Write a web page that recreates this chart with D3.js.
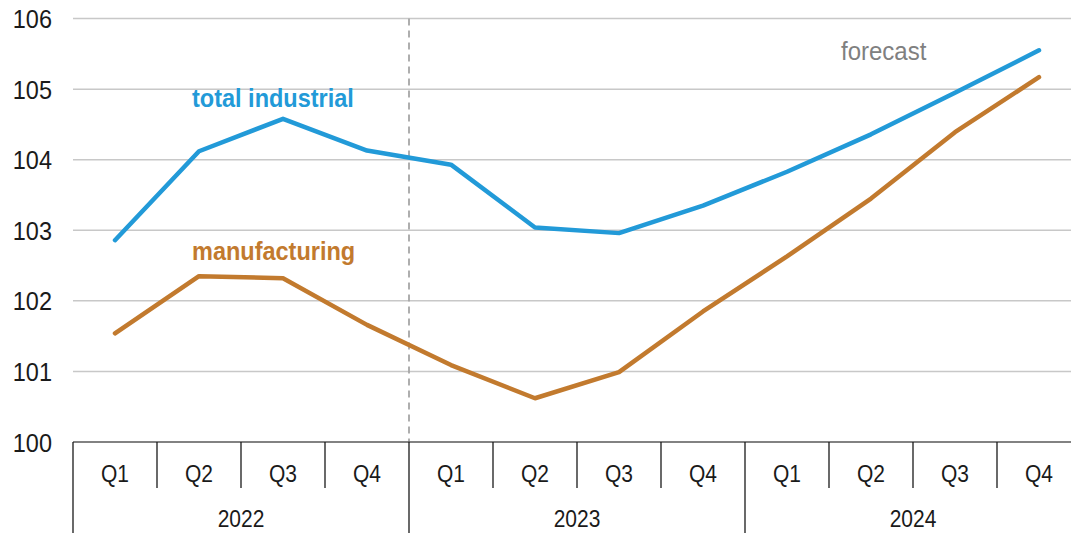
<!DOCTYPE html>
<html><head><meta charset="utf-8">
<script src="https://cdn.jsdelivr.net/npm/d3@7"></script>
<style>body{margin:0;background:#fff;} svg{display:block;font-family:"Liberation Sans",Arial,sans-serif;}</style>
</head><body>
<svg id="c" width="1071" height="533"></svg>
<script>
const years = ["2022","2023","2024"];
const quarters = ["Q1","Q2","Q3","Q4"];
const categories = years.flatMap(y => quarters.map(q => y + " " + q));
const totalIndustrial = [102.86,104.12,104.58,104.13,103.93,103.04,102.96,103.35,103.83,104.36,104.95,105.55];
const manufacturing = [101.54,102.35,102.32,101.66,101.09,100.62,100.99,101.85,102.63,103.45,104.39,105.17];
const yTicks = [100,101,102,103,104,105,106];
const forecastStart = "2023 Q1";

(function(){
const svg = d3.select("#c");
const pL = 73, pR = 1081, pT = 18.6, pB = 442;
const x = d3.scaleBand().domain(categories).range([pL, pR]);
const y = d3.scaleLinear().domain([100,106]).range([pB, pT]);
const tr = (px, py, s) => `translate(${px},${py}) scale(1,${s})`;

// gridlines
svg.append("g").selectAll("line").data(yTicks.filter(d => d > 100)).join("line")
  .attr("x1", pL).attr("x2", pR)
  .attr("y1", d => y(d)).attr("y2", d => y(d))
  .attr("stroke", "#c8c8c8").attr("stroke-width", 1.5);

// y labels
svg.append("g").selectAll("text").data(yTicks).join("text")
  .attr("transform", d => tr(52, y(d) + 9.5, 1.12))
  .attr("text-anchor", "end").attr("font-size", 23.5).attr("fill", "#1a1a1a")
  .text(d => d);

// forecast dashed line
const fx = x(forecastStart);
svg.append("line").attr("x1", fx).attr("x2", fx).attr("y1", pT).attr("y2", pB)
  .attr("stroke", "#a6a6a6").attr("stroke-width", 1.8).attr("stroke-dasharray", "7,5");

// x axis line
svg.append("line").attr("x1", pL).attr("x2", pR).attr("y1", pB).attr("y2", pB)
  .attr("stroke", "#595959").attr("stroke-width", 1.5);

// quarter dividers
svg.append("g").selectAll("line").data(categories).join("line")
  .attr("x1", d => x(d)).attr("x2", d => x(d))
  .attr("y1", pB).attr("y2", d => d.endsWith("Q1") ? 533 : 488)
  .attr("stroke", "#1a1a1a").attr("stroke-width", 1.3);

// quarter labels
svg.append("g").selectAll("text").data(categories).join("text")
  .attr("transform", d => tr(x(d) + x.bandwidth()/2, 482, 1.15))
  .attr("text-anchor", "middle").attr("font-size", 21).attr("fill", "#1a1a1a")
  .text(d => d.split(" ")[1]);

// year labels
svg.append("g").selectAll("text").data(years).join("text")
  .attr("transform", d => tr((x(d + " Q1") + x(d + " Q4") + x.bandwidth())/2, 527, 1.15))
  .attr("text-anchor", "middle").attr("font-size", 21).attr("fill", "#1a1a1a")
  .text(d => d);

const line = d3.line().x((d,i) => x(categories[i]) + x.bandwidth()/2).y(d => y(d));
svg.append("path").datum(totalIndustrial).attr("d", line)
  .attr("fill", "none").attr("stroke", "#229ad8").attr("stroke-width", 4.5)
  .attr("stroke-linejoin", "round").attr("stroke-linecap", "round");
svg.append("path").datum(manufacturing).attr("d", line)
  .attr("fill", "none").attr("stroke", "#c27a2e").attr("stroke-width", 4.5)
  .attr("stroke-linejoin", "round").attr("stroke-linecap", "round");

svg.append("text").attr("transform", tr(192, 107, 1.07)).attr("font-size", 23.5).attr("font-weight", "bold")
  .attr("fill", "#229ad8").text("total industrial");
svg.append("text").attr("transform", tr(192, 260, 1.07)).attr("font-size", 23.5).attr("font-weight", "bold")
  .attr("fill", "#c27a2e").text("manufacturing");
svg.append("text").attr("transform", tr(841, 60, 1.07)).attr("font-size", 24)
  .attr("fill", "#808080").text("forecast");
})();
</script>
</body></html>
